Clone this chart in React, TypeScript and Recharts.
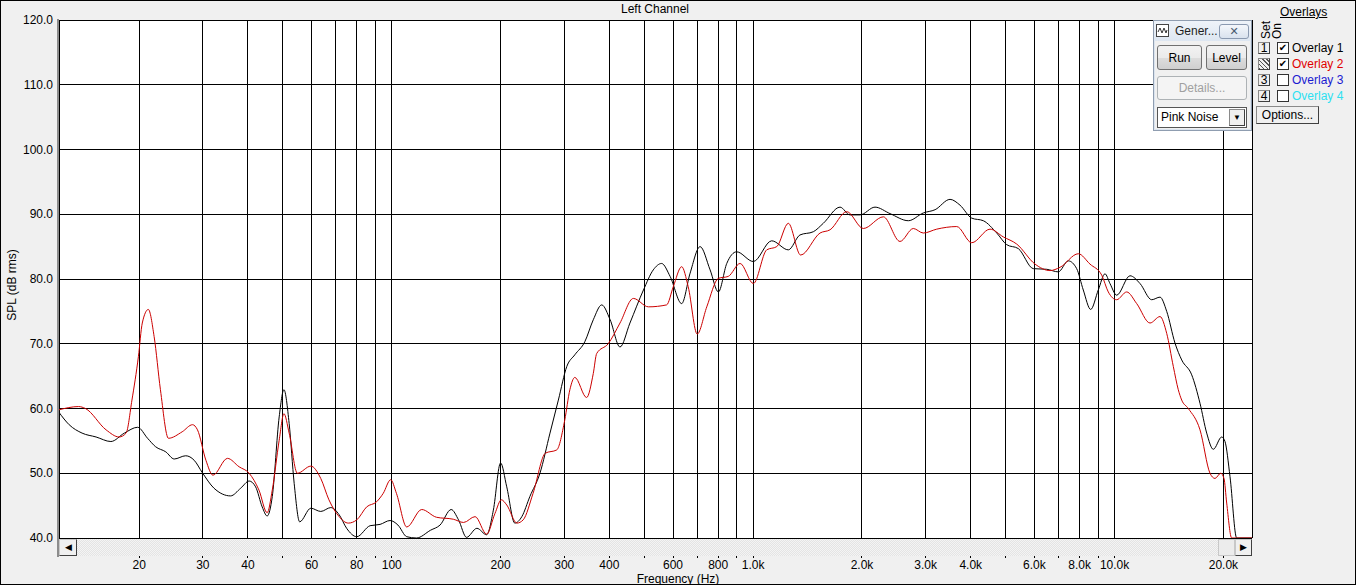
// App.tsx - "Left Channel" SPL frequency response with two overlays
import React from "react";
import { LineChart, Line, XAxis, YAxis, CartesianGrid } from "recharts";

// [frequency Hz, SPL dB]
const overlay1: [number, number][] = [
  [12, 59.4], [12.8, 57.5], [13.9, 56.2], [15.2, 55.6], [16.7, 54.9], [18.2, 56.2],
  [19.8, 57.1], [21.1, 55.4], [22.2, 54.1], [23.7, 53.3], [25, 52.2], [26.9, 52.7],
  [28.4, 52.0], [29.9, 50.1], [32.2, 47.7], [35.8, 46.5], [38.2, 47.7], [40.3, 48.8],
  [42, 47.9], [43.8, 44.8], [45.2, 43.4], [46.7, 46.4], [48.8, 58.7], [50.3, 62.9],
  [52, 57.7], [53.7, 48.4], [55.6, 42.5], [59.7, 44.6], [63.6, 44.1], [67.8, 44.7],
  [71.5, 43.6], [75, 41.5], [80, 40.2], [87.1, 41.9], [92.8, 42.1], [98.9, 42.7],
  [104, 42.0], [110, 40.2], [117, 40], [128, 41.2], [136, 42.0], [146, 44.4],
  [153, 42.8], [161, 40.1], [172, 41.5], [183, 40.5], [191, 44.3], [200, 51.6],
  [208, 47.9], [219, 42.3], [229, 43.3], [241, 46.4], [257, 50.0], [274, 56.2],
  [289, 61.3], [305, 66.5], [321, 68.3], [342, 70.3], [361, 73.7], [381, 76.0],
  [402, 73.7], [428, 69.5], [456, 73.2], [497, 78.3], [529, 81.4], [558, 82.4],
  [589, 80.4], [634, 76.2], [669, 80.9], [713, 85.0], [760, 81.4], [801, 78.0],
  [845, 82.4], [900, 84.2], [1001, 82.7], [1125, 85.9], [1251, 84.5], [1347, 86.8],
  [1467, 87.3], [1563, 88.6], [1739, 91.1], [1853, 89.9], [1975, 89.9], [2173, 91.1],
  [2391, 90.1], [2687, 89.0], [2956, 90.2], [3186, 90.7], [3505, 92.3], [3735, 91.4],
  [4024, 89.4], [4333, 89.0], [4720, 87.1], [5030, 85.3], [5414, 84.7], [5958, 81.6],
  [6489, 81.5], [6986, 81.1], [7445, 82.8], [7854, 81.6], [8192, 78.3], [8587, 75.3],
  [9013, 78.3], [9406, 80.8], [9710, 79.3], [10134, 77.5], [11031, 80.5], [11758, 79.3],
  [12667, 76.8], [13356, 77.2], [13938, 75.0], [14694, 70.1], [15336, 67.5], [16345, 65.2],
  [17233, 60.8], [17984, 56.2], [18756, 53.7], [19787, 55.6], [20207, 54.9], [20861, 49.5],
  [21771, 40], [24000, 40],
];

const overlay2: [number, number][] = [
  [12, 59.8], [13.6, 60.3], [14.2, 60.0], [16.2, 56.7], [17.6, 55.6], [18.4, 56.2],
  [19.1, 61.3], [19.9, 68.0], [20.4, 73.2], [21.2, 75.3], [22, 71.1], [22.9, 62.9],
  [24.1, 55.4], [26.3, 56.4], [28.1, 57.5], [29, 56.7], [30.6, 52.0], [32, 49.7],
  [35.1, 52.3], [37.8, 51.0], [40.3, 50.0], [42.9, 47.4], [45.2, 43.9], [46.7, 47.4],
  [48.8, 55.1], [50.3, 59.2], [52, 56.2], [54.8, 50.0], [59.7, 51.1], [63.6, 49.2],
  [67, 45.9], [71.5, 43.3], [75.8, 42.3], [80, 42.8], [85.2, 44.8], [90.8, 45.6],
  [94.7, 46.9], [99.3, 49.0], [103, 46.9], [110, 41.7], [121, 44.4], [133, 43.2],
  [148, 42.9], [158, 42.4], [170, 43.3], [183, 40.6], [193, 43.8], [201, 45.9],
  [208, 45.1], [222, 42.3], [231, 42.8], [246, 46.9], [266, 53.1], [286, 53.6],
  [301, 58.2], [311, 62.9], [321, 64.8], [346, 61.7], [361, 65.4], [369, 68.5],
  [397, 70.0], [428, 73.2], [466, 77.0], [513, 75.7], [576, 76.0], [601, 78.8],
  [634, 81.9], [661, 78.8], [700, 71.5], [744, 75.7], [801, 80.1], [853, 80.4],
  [920, 82.4], [1001, 79.3], [1090, 84.5], [1162, 85.0], [1251, 88.6], [1353, 83.7],
  [1531, 87.1], [1632, 87.6], [1815, 90.4], [2017, 87.8], [2292, 89.6], [2548, 85.8],
  [2774, 87.8], [2956, 87.1], [3220, 87.7], [3658, 88.1], [4024, 85.6], [4522, 87.7],
  [4922, 86.5], [5359, 85.4], [6024, 82.3], [6626, 81.3], [7062, 81.8], [7936, 83.9],
  [8549, 82.3], [9212, 80.6], [9606, 78.0], [10134, 76.8], [10801, 78.0], [11513, 76.2],
  [12530, 73.2], [13356, 74.2], [13938, 71.6], [14536, 66.5], [15006, 62.9], [15336, 61.3],
  [15995, 60.0], [17233, 56.7], [18366, 50.0], [18960, 49.2], [19661, 50.0], [20078, 49.2],
  [20426, 45.4], [21088, 40], [24000, 40],
];

const freqTicks = [
  20, 30, 40, 50, 60, 70, 80, 90, 100, 200, 300, 400, 500, 600, 700, 800, 900,
  1000, 2000, 3000, 4000, 5000, 6000, 7000, 8000, 9000, 10000, 20000,
];
const freqLabelled = [20, 30, 40, 60, 80, 100, 200, 300, 400, 600, 800, 1000, 2000, 3000, 4000, 6000, 8000, 10000, 20000];
const dbTicks = [40, 50, 60, 70, 80, 90, 100, 110, 120];

const overlayRows = [
  { name: "Overlay 1", color: "#000000", on: true },
  { name: "Overlay 2", color: "#e00000", on: true },
  { name: "Overlay 3", color: "#1a1ad0", on: false },
  { name: "Overlay 4", color: "#2ee0f0", on: false },
];

const FONT = '"Liberation Sans", Arial, sans-serif';

const toRows = (pts: [number, number][]) => pts.map(([f, db]) => ({ f, db }));
const data1 = toRows(overlay1);
const data2 = toRows(overlay2);

const fmtFreq = (f: number) => (f >= 1000 ? (f / 1000).toFixed(1) + "k" : String(f));

const FreqTick = (props: any) => {
  const { x, payload } = props;
  const f = payload.value as number;
  const show = freqLabelled.includes(f);
  return (
    <g>
      <line x1={x} x2={x} y1={555} y2={558} stroke="#000" shapeRendering="crispEdges" />
      {show && (
        <text x={x} y={565} textAnchor="middle" dominantBaseline="central" fontFamily={FONT} fontSize={12} fill="#000">
          {fmtFreq(f)}
        </text>
      )}
    </g>
  );
};

const DbTick = (props: any) => {
  const { y, payload } = props;
  return (
    <text x={53} y={y} textAnchor="end" dominantBaseline="central" fontFamily={FONT} fontSize={12} fill="#000">
      {Number(payload.value).toFixed(1)}
    </text>
  );
};

const abs = (l: number, t: number, w: number, h: number): React.CSSProperties => ({
  position: "absolute",
  left: l,
  top: t,
  width: w,
  height: h,
  boxSizing: "border-box",
});

const winBtn: React.CSSProperties = {
  border: "1px solid #707070",
  borderRadius: 3,
  background: "linear-gradient(#f2f2f2, #ebebeb 50%, #dddddd 51%, #cfcfcf)",
  fontFamily: FONT,
  fontSize: 12,
  color: "#000",
  display: "flex",
  alignItems: "center",
  justifyContent: "center",
};

const smallBtn: React.CSSProperties = {
  border: "1px solid #8a8a8a",
  borderRightColor: "#404040",
  borderBottomColor: "#404040",
  background: "#f0f0f0",
  fontFamily: FONT,
  fontSize: 12,
  lineHeight: "11px",
  display: "flex",
  alignItems: "center",
  justifyContent: "center",
};

const App: React.FC = () => {
  return (
    <div style={{ position: "absolute", left: 0, top: 0, width: 1356, height: 585, background: "#f0f0f0", overflow: "hidden" }}>
      <LineChart width={1356} height={585} margin={{ top: 20, right: 104, bottom: 0, left: 0 }}>
        <CartesianGrid stroke="#000" fill="#ffffff" shapeRendering="crispEdges" />
        <XAxis
          dataKey="f"
          type="number"
          scale="log"
          domain={[12, 24000]}
          allowDataOverflow
          ticks={freqTicks}
          interval={0}
          axisLine={false}
          tickLine={false}
          height={47}
          tick={<FreqTick />}
        />
        <YAxis
          type="number"
          domain={[40, 120]}
          allowDataOverflow
          ticks={dbTicks}
          interval={0}
          axisLine={false}
          tickLine={false}
          width={59}
          tick={<DbTick />}
        />
        <Line data={data1} dataKey="db" type="monotone" stroke="#000000" strokeWidth={1} dot={false} isAnimationActive={false} />
        <Line data={data2} dataKey="db" type="monotone" stroke="#cc0000" strokeWidth={1} dot={false} isAnimationActive={false} />
      </LineChart>

      {/* titles */}
      <div style={{ ...abs(555, 2, 200, 14), textAlign: "center", fontFamily: FONT, fontSize: 12, lineHeight: "14px" }}>Left Channel</div>
      <div style={{ ...abs(578, 573, 200, 12), textAlign: "center", fontFamily: FONT, fontSize: 12, lineHeight: "12px" }}>Frequency (Hz)</div>
      <div
        style={{
          ...abs(-38, 278, 100, 14),
          textAlign: "center",
          fontFamily: FONT,
          fontSize: 12,
          lineHeight: "14px",
          transform: "rotate(-90deg)",
        }}
      >
        SPL (dB rms)
      </div>

      {/* plot frame left edge */}
      <div style={{ ...abs(57, 19, 2, 538), background: "#8c8c8c" }} />

      {/* scrollbar */}
      <div
        style={{
          ...abs(59, 539, 1193, 17),
          backgroundColor: "#f4f4f4",
          backgroundImage: "conic-gradient(#e4e4e4 25%, transparent 0 50%, #e4e4e4 0 75%, transparent 0)",
          backgroundSize: "2px 2px",
        }}
      />
      <div style={{ ...abs(59, 539, 18, 17), ...smallBtn, border: "1px solid #c8c8c8", background: "#f0f0f0", fontSize: 9 }}>◀</div>
      <div style={{ ...abs(1218, 539, 17, 17), border: "1px solid #c8c8c8", background: "#ececec" }} />
      <div style={{ ...abs(1235, 539, 17, 17), ...smallBtn, border: "1px solid #c8c8c8", background: "#f0f0f0", fontSize: 9 }}>▶</div>

      {/* generator tool window */}
      <div style={{ ...abs(1153, 20, 99, 111), background: "#f0f0f0", border: "1px solid #8f9db0", boxShadow: "inset 0 0 0 1px #dbe4ef" }} />
      <div style={{ ...abs(1154, 21, 97, 20), background: "linear-gradient(#eef3f9, #dde6f1)" }} />
      <div style={{ ...abs(1156, 24, 13, 13), border: "1px solid #444", background: "#fff" }}>
        <svg width={11} height={11} style={{ display: "block" }}>
          <polyline points="1,7 3,3 5,8 7,3 9,8 10,5" fill="none" stroke="#333" strokeWidth={1} />
        </svg>
      </div>
      <div style={{ ...abs(1175, 24, 46, 14), fontFamily: FONT, fontSize: 12, lineHeight: "14px", color: "#1e1e1e" }}>Gener...</div>
      <div
        style={{
          ...abs(1219, 24, 30, 15),
          border: "1px solid #8a99b0",
          borderRadius: 3,
          background: "linear-gradient(#f4f7fb, #d9e2ee)",
          fontFamily: '"DejaVu Sans", sans-serif',
          fontSize: 11,
          fontWeight: "bold",
          color: "#4a5a70",
          display: "flex",
          alignItems: "center",
          justifyContent: "center",
        }}
      >
        ✕
      </div>
      <div style={{ ...abs(1157, 45, 45, 25), ...winBtn }}>Run</div>
      <div style={{ ...abs(1206, 45, 41, 25), ...winBtn }}>Level</div>
      <div style={{ ...abs(1157, 76, 90, 24), ...winBtn, border: "1px solid #adb2b5", background: "#f4f4f4", color: "#a0a0a0" }}>Details...</div>
      <div style={{ ...abs(1157, 107, 90, 21), border: "1px solid #555", background: "#fff", fontFamily: FONT, fontSize: 12, lineHeight: "19px", paddingLeft: 3 }}>
        Pink Noise
      </div>
      <div style={{ ...abs(1229, 109, 16, 17), ...smallBtn, fontSize: 8 }}>▼</div>

      {/* overlays panel */}
      <div style={{ ...abs(1280, 5, 50, 14), fontFamily: FONT, fontSize: 12, lineHeight: "14px", textDecoration: "underline" }}>Overlays</div>
      <div
        style={{
          ...abs(1260, 19, 12, 20),
          fontFamily: FONT,
          fontSize: 12,
          lineHeight: "12px",
          writingMode: "vertical-rl",
          transform: "rotate(180deg)",
          textAlign: "left",
        }}
      >
        Set
      </div>
      <div
        style={{
          ...abs(1271, 19, 12, 20),
          fontFamily: FONT,
          fontSize: 12,
          lineHeight: "12px",
          writingMode: "vertical-rl",
          transform: "rotate(180deg)",
          textAlign: "left",
        }}
      >
        On
      </div>
      {overlayRows.map((row, i) => {
        const top = 42 + i * 16;
        return (
          <React.Fragment key={row.name}>
            {i === 1 ? (
              <div
                style={{
                  ...abs(1258, top, 12, 12),
                  ...smallBtn,
                  backgroundImage: "repeating-linear-gradient(45deg, #555 0 1px, #f0f0f0 1px 3px)",
                }}
              />
            ) : (
              <div style={{ ...abs(1258, top, 12, 12), ...smallBtn }}>{i + 1}</div>
            )}
            <div
              style={{
                ...abs(1277, top, 12, 12),
                border: "1px solid #333",
                background: "#fff",
                fontFamily: '"DejaVu Sans", sans-serif',
                fontSize: 10,
                lineHeight: "10px",
                textAlign: "center",
              }}
            >
              {row.on ? "✔" : ""}
            </div>
            <div style={{ ...abs(1292, top - 1, 60, 14), fontFamily: FONT, fontSize: 12, lineHeight: "14px", color: row.color }}>{row.name}</div>
          </React.Fragment>
        );
      })}
      <div style={{ ...abs(1256, 106, 63, 18), ...smallBtn }}>Options...</div>

      {/* outer window border */}
      <div style={{ ...abs(0, 0, 1356, 585), border: "1px solid #000", pointerEvents: "none" }} />
    </div>
  );
};

export default App;
